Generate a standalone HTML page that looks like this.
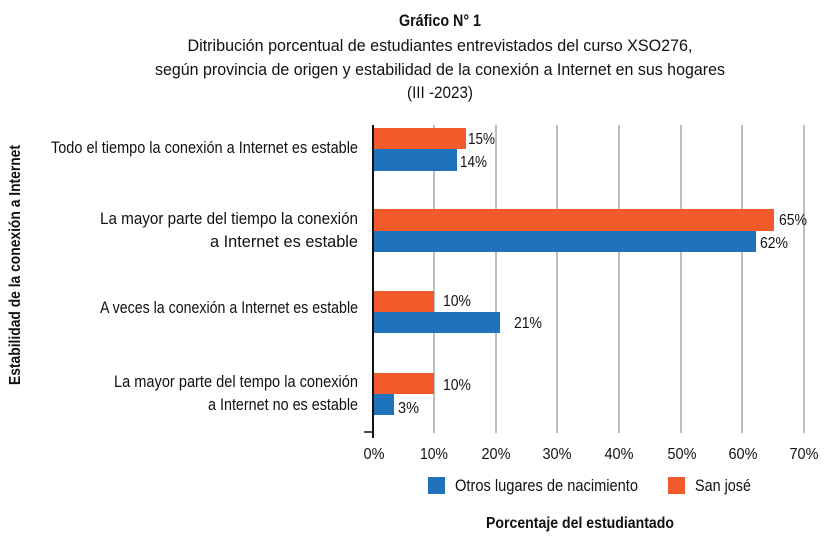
<!DOCTYPE html>
<html><head><meta charset="utf-8"><style>
html,body{margin:0;padding:0;background:#fff;}
svg{display:block;font-family:"Liberation Sans",sans-serif;}
</style></head><body>
<svg width="828" height="559" viewBox="0 0 828 559" xmlns="http://www.w3.org/2000/svg">
<g font-size="16.5" fill="#111" text-anchor="middle">
<text x="440" y="26" font-weight="bold" font-size="17" textLength="82" lengthAdjust="spacingAndGlyphs">Gráfico N° 1</text>
<text x="440" y="51" textLength="505" lengthAdjust="spacingAndGlyphs">Ditribución porcentual de estudiantes entrevistados del curso XSO276,</text>
<text x="440" y="75" textLength="570" lengthAdjust="spacingAndGlyphs">según provincia de origen y estabilidad de la conexión a Internet en sus hogares</text>
<text x="440" y="98" textLength="66" lengthAdjust="spacingAndGlyphs">(III -2023)</text>
</g>
<g stroke="#bdbdbd" stroke-width="2">
<line x1="434" y1="125" x2="434" y2="433"/><line x1="496" y1="125" x2="496" y2="433"/>
<line x1="557" y1="125" x2="557" y2="433"/><line x1="619" y1="125" x2="619" y2="433"/>
<line x1="681" y1="125" x2="681" y2="433"/><line x1="742" y1="125" x2="742" y2="433"/>
<line x1="804" y1="125" x2="804" y2="433"/>
</g>
<line x1="364" y1="432" x2="373" y2="432" stroke="#111" stroke-width="1.5"/>
<g>
<rect x="373" y="128" width="93" height="21" fill="#f15a2b"/>
<rect x="373" y="149" width="84" height="22" fill="#1f72bb"/>
<rect x="373" y="209" width="401" height="22" fill="#f15a2b"/>
<rect x="373" y="231" width="383" height="21" fill="#1f72bb"/>
<rect x="373" y="291" width="61" height="21" fill="#f15a2b"/>
<rect x="373" y="312" width="127" height="21" fill="#1f72bb"/>
<rect x="373" y="373" width="61" height="21" fill="#f15a2b"/>
<rect x="373" y="394" width="21" height="21" fill="#1f72bb"/>
</g>
<line x1="373" y1="125" x2="373" y2="438" stroke="#111" stroke-width="2"/>
<g font-size="15.5" fill="#111">
<text x="468" y="144" textLength="27" lengthAdjust="spacingAndGlyphs">15%</text><text x="460" y="167" textLength="27" lengthAdjust="spacingAndGlyphs">14%</text>
<text x="779" y="225" textLength="28" lengthAdjust="spacingAndGlyphs">65%</text><text x="760" y="248" textLength="28" lengthAdjust="spacingAndGlyphs">62%</text>
<text x="443" y="306" textLength="28" lengthAdjust="spacingAndGlyphs">10%</text><text x="514" y="328" textLength="28" lengthAdjust="spacingAndGlyphs">21%</text>
<text x="443" y="390" textLength="28" lengthAdjust="spacingAndGlyphs">10%</text><text x="398" y="413" textLength="21" lengthAdjust="spacingAndGlyphs">3%</text>
</g>
<g font-size="16.5" fill="#111" text-anchor="end">
<text x="358" y="153" textLength="307" lengthAdjust="spacingAndGlyphs">Todo el tiempo la conexión a Internet es estable</text>
<text x="358" y="224" textLength="258" lengthAdjust="spacingAndGlyphs">La mayor parte del tiempo la conexión</text>
<text x="358" y="247" textLength="148" lengthAdjust="spacingAndGlyphs">a Internet es estable</text>
<text x="358" y="313" textLength="258" lengthAdjust="spacingAndGlyphs">A veces la conexión a Internet es estable</text>
<text x="358" y="387" textLength="244" lengthAdjust="spacingAndGlyphs">La mayor parte del tempo la conexión</text>
<text x="358" y="410" textLength="150" lengthAdjust="spacingAndGlyphs">a Internet no es estable</text>
</g>
<g font-size="15.5" fill="#111" text-anchor="middle">
<text x="374" y="459" textLength="21" lengthAdjust="spacingAndGlyphs">0%</text><text x="434" y="459" textLength="28" lengthAdjust="spacingAndGlyphs">10%</text><text x="496" y="459" textLength="29" lengthAdjust="spacingAndGlyphs">20%</text>
<text x="557" y="459" textLength="29" lengthAdjust="spacingAndGlyphs">30%</text><text x="619" y="459" textLength="29" lengthAdjust="spacingAndGlyphs">40%</text><text x="682" y="459" textLength="29" lengthAdjust="spacingAndGlyphs">50%</text>
<text x="743" y="459" textLength="29" lengthAdjust="spacingAndGlyphs">60%</text><text x="804" y="459" textLength="29" lengthAdjust="spacingAndGlyphs">70%</text>
</g>
<rect x="428" y="477" width="17" height="17" fill="#1f72bb"/>
<text x="455" y="491" font-size="16.5" fill="#111" textLength="183" lengthAdjust="spacingAndGlyphs">Otros lugares de nacimiento</text>
<rect x="668" y="477" width="17" height="17" fill="#f15a2b"/>
<text x="695" y="491" font-size="16.5" fill="#111" textLength="56" lengthAdjust="spacingAndGlyphs">San josé</text>
<text x="580" y="528" font-size="16" font-weight="bold" fill="#111" text-anchor="middle" textLength="188" lengthAdjust="spacingAndGlyphs">Porcentaje del estudiantado</text>
<text transform="translate(20,265) rotate(-90)" font-size="16" font-weight="bold" fill="#111" text-anchor="middle" textLength="240" lengthAdjust="spacingAndGlyphs">Estabilidad de la conexión a Internet</text>
</svg>
</body></html>
